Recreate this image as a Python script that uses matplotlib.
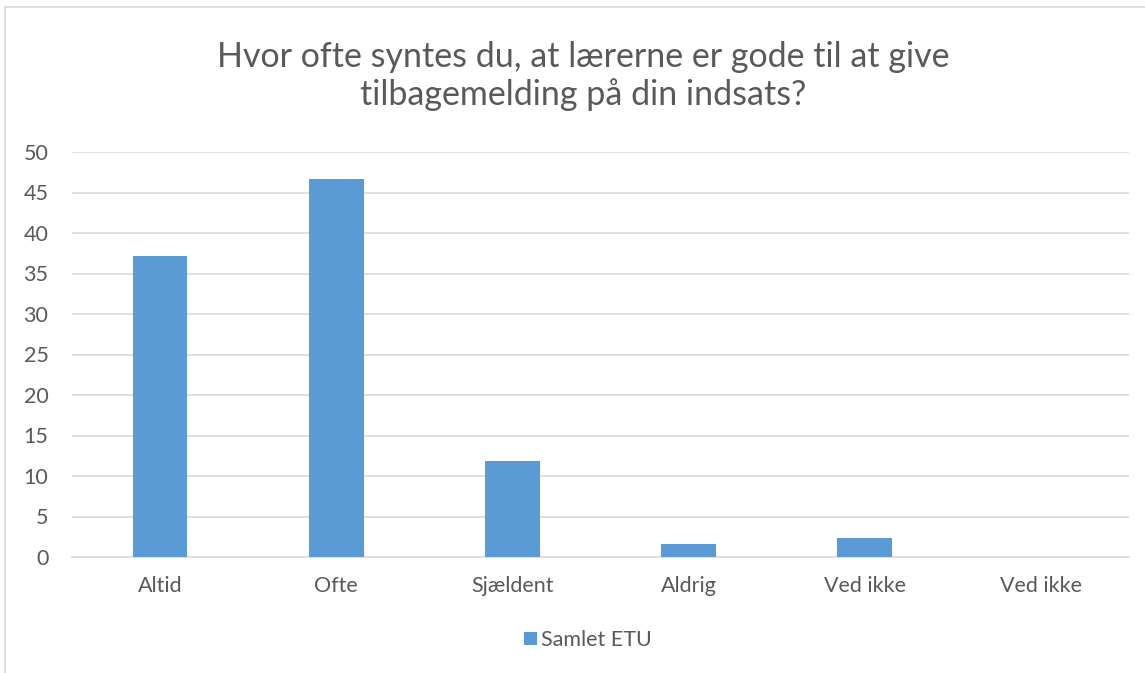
import matplotlib.pyplot as plt
from matplotlib.patches import Rectangle

categories = ['Altid', 'Ofte', 'Sjældent', 'Aldrig', 'Ved ikke', 'Ved ikke']
values = [37.2, 46.7, 11.9, 1.6, 2.4, 0]
series_name = 'Samlet ETU'
title = 'Hvor ofte syntes du, at lærerne er gode til at give\ntilbagemelding på din indsats?'

plt.rcParams['font.family'] = ['Lato', 'DejaVu Sans']
text_color = '#595959'
bar_color = '#5b9bd5'

fig = plt.figure(figsize=(11.45, 6.73), dpi=100)
ax = fig.add_axes([72 / 1145, 1 - 557 / 673, (1129 - 72) / 1145, (557 - 152) / 673])

x = list(range(len(categories)))
ax.bar(x, values, width=0.31, color=bar_color, label=series_name, zorder=3)

ax.set_ylim(0, 50)
ax.set_xlim(-0.5, len(categories) - 0.5)
ax.set_yticks(range(0, 51, 5))
ax.set_xticks(x)
ax.set_xticklabels(categories)
ax.tick_params(axis='both', length=0, labelsize=15.5, colors=text_color)
ax.tick_params(axis='x', pad=14)
ax.tick_params(axis='y', pad=17)
ax.grid(axis='y', color='#d9d9d9', linewidth=1.2, zorder=0)
for s in ['top', 'right', 'left']:
    ax.spines[s].set_visible(False)
ax.spines['bottom'].set_color('#d9d9d9')
ax.spines['bottom'].set_linewidth(1.2)

fig.text(583 / 1145, 1 - 76 / 673, title, ha='center', va='center',
         fontsize=24.5, color=text_color, linespacing=1.2)

fig.legend(loc='center', bbox_to_anchor=(588 / 1145, 1 - 640 / 673), frameon=False,
           fontsize=15.5, labelcolor=text_color, handlelength=0.6, handleheight=0.6,
           handletextpad=0.2)

fig.patches.append(Rectangle((5 / 1145, -0.01), 1.1, 1 - 7 / 673 + 0.01,
                             transform=fig.transFigure, fill=False,
                             edgecolor='#d9d9d9', linewidth=1.2))

plt.savefig('out.png', dpi=100)
